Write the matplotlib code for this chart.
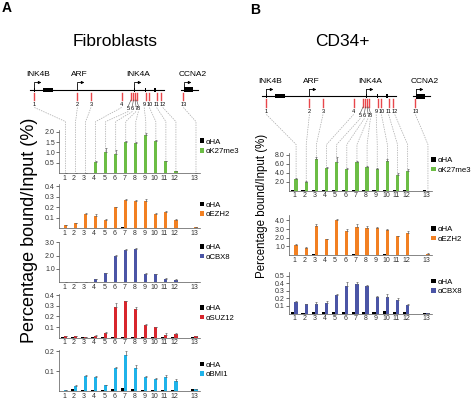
import numpy as np
import matplotlib
matplotlib.use('Agg')
import matplotlib.pyplot as plt
from matplotlib.lines import Line2D
from matplotlib.patches import Rectangle

plt.rcParams['font.family'] = ['Liberation Sans', 'DejaVu Sans']

# amplicons along the INK4B-ARF-INK4A locus (+ CCNA2 control)
sites = [str(i) for i in range(1, 14)]
amplicon_pos = [7.2, 28.7, 35.5, 50.8, 55.5, 56.7, 57.5, 58.3, 62.8, 64.7, 68.3, 70.7, 81.7]
genes = ['INK4B', 'ARF', 'INK4A', 'CCNA2']
gene_tss = [7.2, 28.7, 57.2, 82.2]
gene_label_x = [9.0, 29.5, 59.0, 86.5]

# Fibroblasts (panel A)
fib_k27 = [0, 0, 0.02, 0.55, 1.02, 0.95, 1.5, 1.45, 1.85, 1.55, 0.57, 0.1, 0]
fib_k27_err = [0, 0, 0, 0.05, 0.18, 0.15, 0.04, 0.04, 0.1, 0.04, 0.04, 0.02, 0]
fib_k27_ha = [0.005, 0.005, 0.01, 0.01, 0.01, 0.01, 0.01, 0.01, 0.01, 0.01, 0.01, 0.01, 0.005]

fib_ezh2 = [0.026, 0.048, 0.135, 0.115, 0.08, 0.2, 0.27, 0.255, 0.26, 0.135, 0.15, 0.08, 0.007]
fib_ezh2_err = [0.004, 0.004, 0.01, 0.015, 0.005, 0.005, 0.005, 0.01, 0.015, 0.01, 0.01, 0.005, 0.002]
fib_ezh2_ha = [0.002, 0.002, 0.003, 0.003, 0.003, 0.004, 0.006, 0.004, 0.004, 0.003, 0.003, 0.002, 0.002]

fib_cbx8 = [0.02, 0.03, 0.02, 0.22, 0.67, 2.0, 2.42, 2.47, 0.62, 0.6, 0.25, 0.17, 0.01]
fib_cbx8_err = [0, 0, 0, 0.03, 0.04, 0.06, 0.05, 0.1, 0.03, 0.03, 0.02, 0.02, 0]
fib_cbx8_ha = [0.01, 0.01, 0.01, 0.01, 0.02, 0.03, 0.03, 0.03, 0.02, 0.01, 0.01, 0.01, 0.01]

fib_suz12 = [0.013, 0.012, 0.008, 0.02, 0.045, 0.29, 0.34, 0.27, 0.115, 0.1, 0.03, 0.035, 0.012]
fib_suz12_err = [0.002, 0.003, 0.002, 0.003, 0.004, 0.04, 0.005, 0.02, 0.01, 0.005, 0.01, 0.005, 0.003]
fib_suz12_ha = [0.002, 0.002, 0.002, 0.002, 0.002, 0.004, 0.006, 0.004, 0.003, 0.002, 0.002, 0.002, 0.002]

fib_bmi1 = [0.003, 0.027, 0.078, 0.07, 0.028, 0.116, 0.18, 0.115, 0.07, 0.062, 0.07, 0.052, 0.01]
fib_bmi1_err = [0.001, 0.004, 0.004, 0.004, 0.003, 0.004, 0.02, 0.015, 0.007, 0.004, 0.01, 0.008, 0.002]
fib_bmi1_ha = [0.002, 0.01, 0.006, 0.004, 0.003, 0.01, 0.015, 0.01, 0.006, 0.006, 0.006, 0.004, 0.008]

# CD34+ (panel B)
cd34_k27 = [2.5, 1.9, 7.0, 5.0, 6.4, 4.8, 6.3, 5.3, 4.7, 6.6, 3.4, 4.4, 0]
cd34_k27_err = [0.2, 0.2, 0.4, 0.2, 1.0, 0.3, 0.3, 0.1, 0.4, 0.5, 0.4, 0.4, 0]
cd34_k27_ha = [0.05] * 13

cd34_ezh2 = [1.2, 0.84, 3.4, 1.8, 4.05, 2.75, 3.25, 3.15, 3.1, 2.9, 2.15, 2.6, 0.15]
cd34_ezh2_err = [0.1, 0.07, 0.2, 0.1, 0.07, 0.25, 0.3, 0.25, 0.2, 0.1, 0.05, 0.2, 0.03]
cd34_ezh2_ha = [0.04, 0.04, 0.06, 0.05, 0.05, 0.05, 0.06, 0.05, 0.05, 0.08, 0.05, 0.05, 0.04]

cd34_cbx8 = [0.155, 0.12, 0.12, 0.14, 0.245, 0.365, 0.39, 0.365, 0.215, 0.22, 0.18, 0.115, 0.01]
cd34_cbx8_err = [0.005, 0.01, 0.03, 0.03, 0.01, 0.045, 0.03, 0.01, 0.01, 0.04, 0.03, 0.01, 0.003]
cd34_cbx8_ha = [0.015, 0.012, 0.02, 0.015, 0.02, 0.015, 0.02, 0.015, 0.015, 0.03, 0.015, 0.015, 0.01]

GREEN, ORANGE, BLUE, RED, CYAN = '#6cbd45', '#f28022', '#4b55a6', '#d8262d', '#1fb3ea'

W, H = 471, 400
fig = plt.figure(figsize=(W / 100, H / 100), dpi=100)

# x positions: 1..12, control amplicon 13 after a gap
xpos = np.arange(1, 14, dtype=float)
xpos[-1] += 1


def px_axes(left, top, width, bottom):
    return fig.add_axes([left / W, 1 - bottom / H, width / W, (bottom - top) / H])


def bar_panel(left, top, width, bottom, xlim, ylim, yticks, ha, vals, err, color, name, leg_xy):
    ax = px_axes(left, top, width, bottom)
    ax.set_facecolor('none')
    b_ha = ax.bar(xpos - 0.12, ha, width=0.3, color='black', zorder=2)
    b_col = ax.bar(xpos + 0.2, vals, width=0.32, color=color, zorder=2)
    ax.errorbar(xpos + 0.2, vals, yerr=[np.zeros(len(err)), err], fmt='none',
                ecolor='#666666', elinewidth=0.5, capsize=0.8, capthick=0.5, zorder=3)
    ax.set_xlim(*xlim)
    ax.set_ylim(*ylim)
    ax.set_yticks(yticks)
    ax.set_yticklabels(['%.1f' % t for t in yticks])
    ax.set_xticks(xpos + 0.05)
    ax.set_xticklabels(sites)
    for s in ['top', 'right']:
        ax.spines[s].set_visible(False)
    for s in ['left', 'bottom']:
        ax.spines[s].set_linewidth(0.5)
        ax.spines[s].set_color('#555555')
    ax.tick_params(axis='x', length=0, labelsize=5, pad=1.2, colors='#333333')
    ax.tick_params(axis='y', length=2, width=0.5, labelsize=5, pad=1, colors='#333333')
    ax.legend([b_ha, b_col], ['\u03b1HA', '\u03b1' + name], loc='upper left',
              bbox_to_anchor=(leg_xy[0] / W, 1 - leg_xy[1] / H), bbox_transform=fig.transFigure,
              frameon=False, fontsize=5.6, handlelength=0.6, handleheight=0.6,
              handletextpad=0.25, labelspacing=0.3, borderpad=0, borderaxespad=0)
    return ax


def gene_diagram(left, top):
    ax = px_axes(left, top, 200, top + 60)
    ax.set_facecolor('none')
    ax.set_xlim(0, 100)
    ax.set_ylim(30, -30)
    ax.axis('off')
    ax.plot([5.2, 71.8], [0, 0], color='black', lw=0.8)
    ax.plot([80.5, 89], [0, 0], color='black', lw=0.8)
    # exons
    for x0, w, h in [(6.8, 0.9, 4), (11.5, 5, 4), (56.8, 0.9, 4), (62.5, 0.7, 4),
                     (67.2, 0.7, 4), (82.2, 4.3, 5)]:
        ax.add_patch(Rectangle((x0, -h / 2), w, h, color='black', lw=0))
    # TSS arrows
    for x in gene_tss:
        ax.plot([x, x], [0, -7], color='black', lw=0.6)
        ax.annotate('', xy=(x + 3.5, -7), xytext=(x, -7),
                    arrowprops=dict(arrowstyle='-|>', lw=0.6, color='black',
                                    mutation_scale=4, shrinkA=0, shrinkB=0))
    for g, x in zip(genes, gene_label_x):
        ax.text(x, -15, g, ha='center', va='center', fontsize=6)
    # amplicons
    nudge = {4: -1.35, 5: -0.5, 6: 0.5, 7: 0.9}
    shift = {8: -0.7, 11: 0.7}
    lab_x, lab_y = [], []
    for i, x in enumerate(amplicon_pos):
        ax.plot([x, x], [3, 10.5], color='#e8474b', lw=1.0)
        lx = x + nudge.get(i, 0) + shift.get(i, 0)
        ly = 19 if i in nudge else 15
        if i in nudge:
            ax.plot([x, lx], [10.5, 16.5], color='#444444', lw=0.4)
        ax.text(lx, ly, sites[i], ha='center', va='center', fontsize=4.1)
        lab_x.append(lx)
        lab_y.append(ly + 3)
    return ax, lab_x, lab_y


def connectors(diag, lab_x, lab_y, ax0):
    inv = fig.transFigure.inverted()
    y1 = ax0.get_position().y1 + 8 / H
    for i, x in enumerate(xpos):
        sx, sy = inv.transform(diag.transData.transform((lab_x[i], lab_y[i])))
        ex, ey = inv.transform(ax0.transData.transform((x + 0.2, 0)))
        ln = Line2D([sx, ex, ex], [sy, y1, ey], transform=fig.transFigure,
                    color='#a8a8a8', lw=0.5, ls=(0, (2, 1.5)), zorder=-1)
        fig.add_artist(ln)


# ---- panel A: fibroblasts
xl_a = (0.55, 14.6)
a1 = bar_panel(59, 129.6, 141, 173.3, xl_a, (0, 2.1), [0.5, 1.0, 1.5, 2.0],
               fib_k27_ha, fib_k27, fib_k27_err, GREEN, 'K27me3', (199.5, 138.5))
bar_panel(59, 184.5, 141, 228, xl_a, (0, 0.415), [0.1, 0.2, 0.3, 0.4],
          fib_ezh2_ha, fib_ezh2, fib_ezh2_err, ORANGE, 'EZH2', (199.5, 201.5))
bar_panel(59, 241.7, 141, 282, xl_a, (0, 3.05), [1.0, 2.0, 3.0],
          fib_cbx8_ha, fib_cbx8, fib_cbx8_err, BLUE, 'CBX8', (199.5, 244))
bar_panel(59, 294, 141, 337.7, xl_a, (0, 0.41), [0.1, 0.2, 0.3, 0.4],
          fib_suz12_ha, fib_suz12, fib_suz12_err, RED, 'SUZ12', (199.5, 305))
bar_panel(59, 349.5, 141, 391, xl_a, (0, 0.21), [0.1, 0.2],
          fib_bmi1_ha, fib_bmi1, fib_bmi1_err, CYAN, 'BMI1', (199.5, 361.5))
diag_a, lx_a, ly_a = gene_diagram(20, 59.5)
connectors(diag_a, lx_a, ly_a, a1)

# ---- panel B: CD34+
xl_b = (0.5, 14.6)
b1 = bar_panel(289, 152.5, 143, 190.5, xl_b, (0, 8.45), [2.0, 4.0, 6.0, 8.0],
               cd34_k27_ha, cd34_k27, cd34_k27_err, GREEN, 'K27me3', (431, 157))
bar_panel(289, 215.3, 143, 255, xl_b, (0, 4.6), [1.0, 2.0, 3.0, 4.0],
          cd34_ezh2_ha, cd34_ezh2, cd34_ezh2_err, ORANGE, 'EZH2', (431, 226))
bar_panel(289, 271.7, 143, 313.5, xl_b, (0, 0.55), [0.1, 0.2, 0.3, 0.4, 0.5],
          cd34_cbx8_ha, cd34_cbx8, cd34_cbx8_err, BLUE, 'CBX8', (431, 278.5))
diag_b, lx_b, ly_b = gene_diagram(252, 66.5)
connectors(diag_b, lx_b, ly_b, b1)

# titles and labels
fig.text(2 / W, 1 - 8 / H, 'A', fontsize=10, fontweight='bold', va='center', ha='left')
fig.text(250 / W, 1 - 10 / H, 'B', fontsize=10, fontweight='bold', va='center', ha='left')
fig.text(115 / W, 1 - 42 / H, 'Fibroblasts', fontsize=12.5, ha='center', va='center')
fig.text(342 / W, 1 - 42 / H, 'CD34+', fontsize=12.5, ha='center', va='center')
fig.text(30 / W, 1 - 230 / H, 'Percentage bound/Input (%)', fontsize=13,
         rotation=90, ha='center', va='center')
fig.text(262 / W, 1 - 206 / H, 'Percentage bound/Input (%)', fontsize=8.3,
         rotation=90, ha='center', va='center')

fig.savefig('out.png', dpi=100)
